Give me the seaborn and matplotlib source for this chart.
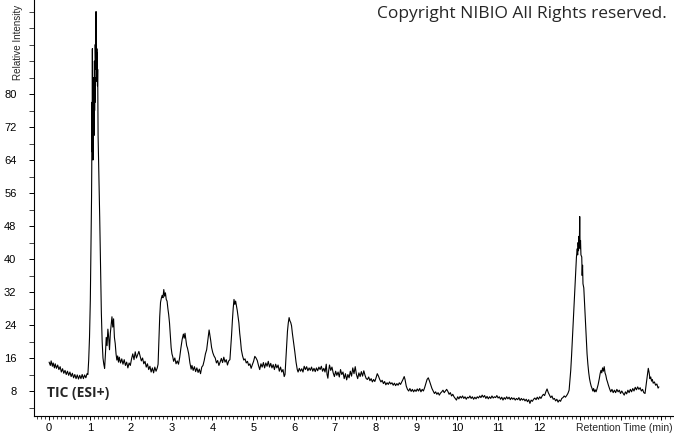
import numpy as np
import pandas as pd
import seaborn as sns
import matplotlib.pyplot as plt
from matplotlib.ticker import FixedLocator, MultipleLocator

sns.set_style("ticks")
plt.rcParams['font.family'] = ['Liberation Sans', 'DejaVu Sans']

# TIC trace: (retention time [min], relative intensity)
seg_0_3 = [
    (0.00, 15.0), (0.03, 14.2), (0.05, 15.3), (0.08, 14.0), (0.10, 14.8), (0.13, 13.6), (0.15, 14.6),
    (0.18, 13.5), (0.21, 14.3), (0.24, 13.2), (0.27, 13.9), (0.30, 12.6), (0.33, 13.4), (0.36, 12.3),
    (0.39, 13.0), (0.42, 12.0), (0.45, 12.8), (0.48, 11.8), (0.51, 12.6), (0.54, 11.5), (0.57, 12.3),
    (0.60, 11.2), (0.63, 12.0), (0.66, 11.0), (0.69, 11.9), (0.72, 10.9), (0.75, 11.8), (0.78, 11.0),
    (0.81, 12.0), (0.84, 11.0), (0.87, 11.9), (0.90, 11.2), (0.93, 12.2), (0.95, 12.0),
    (0.97, 15.5), (0.99, 21.0), (1.01, 30.0), (1.03, 46.0), (1.04, 55.0), (1.045, 62.0), (1.05, 78.0),
    (1.055, 66.0), (1.06, 91.0), (1.065, 75.0), (1.07, 82.0), (1.075, 64.0), (1.08, 80.0), (1.085, 68.0),
    (1.09, 84.0), (1.095, 72.0), (1.10, 79.0), (1.105, 70.0), (1.11, 88.0), (1.115, 76.0), (1.12, 84.0),
    (1.125, 78.0), (1.13, 92.0), (1.14, 86.0), (1.15, 100.0), (1.155, 88.0), (1.16, 92.0), (1.165, 84.0),
    (1.17, 91.0), (1.175, 83.0), (1.18, 90.0), (1.185, 82.0), (1.19, 86.0), (1.20, 70.0), (1.22, 60.0),
    (1.24, 50.0), (1.26, 38.0), (1.28, 27.0), (1.30, 20.0), (1.32, 16.0), (1.34, 14.5), (1.36, 13.5),
    (1.38, 17.0), (1.40, 21.0), (1.42, 19.0), (1.44, 23.0), (1.46, 21.0), (1.48, 18.0), (1.50, 22.0),
    (1.52, 24.0), (1.54, 26.0), (1.56, 23.5), (1.58, 25.5), (1.60, 21.0), (1.62, 19.5), (1.64, 17.0),
    (1.66, 15.5), (1.68, 16.5), (1.70, 15.0), (1.72, 16.2), (1.75, 14.8), (1.78, 15.8), (1.81, 14.5),
    (1.84, 15.6), (1.87, 14.2), (1.90, 15.0), (1.93, 13.6), (1.96, 14.8), (1.99, 14.2), (2.02, 15.8),
    (2.05, 17.0), (2.08, 15.6), (2.11, 17.5), (2.14, 16.0), (2.17, 16.8), (2.20, 17.6), (2.23, 16.4),
    (2.26, 15.3), (2.29, 16.0), (2.32, 14.6), (2.35, 15.2), (2.38, 13.8), (2.41, 14.6), (2.44, 13.2),
    (2.47, 14.0), (2.50, 12.6), (2.53, 13.6), (2.56, 12.4), (2.59, 13.8), (2.62, 12.8), (2.65, 13.6),
    (2.67, 14.5), (2.69, 20.0), (2.71, 26.0), (2.73, 29.5), (2.75, 30.5), (2.77, 31.2), (2.79, 30.6),
    (2.81, 32.6), (2.83, 31.0), (2.85, 31.8), (2.87, 30.2), (2.89, 29.8), (2.91, 28.0), (2.93, 26.5),
    (2.95, 24.5), (2.97, 21.5), (2.99, 18.5),
]
seg_3_6 = [
    (3.01, 17.0), (3.03, 16.3), (3.05, 15.2), (3.08, 16.0), (3.11, 14.6), (3.14, 15.3), (3.17, 14.5),
    (3.20, 16.2), (3.23, 18.5), (3.26, 20.5), (3.29, 21.8), (3.31, 20.8), (3.33, 22.0), (3.35, 20.5),
    (3.37, 19.0), (3.39, 18.4), (3.42, 17.0), (3.45, 14.8), (3.48, 13.3), (3.50, 14.2), (3.53, 13.0),
    (3.56, 13.9), (3.59, 12.7), (3.62, 13.6), (3.65, 12.5), (3.68, 13.3), (3.71, 12.2), (3.74, 13.8),
    (3.77, 14.2), (3.80, 15.4), (3.83, 17.0), (3.86, 18.0), (3.89, 20.5), (3.92, 22.8), (3.94, 21.5),
    (3.96, 20.2), (3.98, 18.6), (4.01, 17.3), (4.04, 16.5), (4.07, 16.0), (4.10, 14.8), (4.13, 15.4),
    (4.16, 14.2), (4.19, 15.0), (4.22, 15.9), (4.25, 14.9), (4.28, 16.2), (4.31, 15.0), (4.34, 15.6),
    (4.37, 14.3), (4.40, 15.3), (4.43, 15.6), (4.45, 18.5), (4.47, 21.5), (4.49, 25.0), (4.51, 28.0),
    (4.53, 30.2), (4.55, 29.0), (4.57, 29.8), (4.59, 28.6), (4.61, 27.5), (4.63, 26.0), (4.65, 24.5),
    (4.67, 22.0), (4.69, 20.2), (4.71, 18.0), (4.74, 16.5), (4.77, 15.5), (4.80, 15.8), (4.83, 14.8),
    (4.86, 15.2), (4.89, 14.2), (4.92, 14.6), (4.95, 13.5), (4.98, 14.4), (5.01, 15.2), (5.04, 16.4),
    (5.07, 16.0), (5.10, 15.4), (5.13, 14.2), (5.16, 13.2), (5.19, 14.6), (5.22, 13.8), (5.25, 14.9),
    (5.28, 13.6), (5.31, 14.8), (5.34, 14.0), (5.37, 15.2), (5.40, 13.8), (5.43, 14.7), (5.46, 13.6),
    (5.49, 14.4), (5.52, 13.2), (5.55, 14.5), (5.58, 13.6), (5.61, 14.3), (5.64, 12.8), (5.67, 13.8),
    (5.70, 12.6), (5.73, 13.2), (5.76, 11.5), (5.78, 12.0), (5.80, 15.5), (5.82, 19.0), (5.84, 22.5),
    (5.86, 24.5), (5.88, 25.8), (5.90, 25.0), (5.92, 24.6), (5.94, 23.8), (5.96, 22.0), (5.98, 20.5),
]
seg_6_10 = [
    (6.00, 19.0), (6.02, 17.5), (6.05, 15.0), (6.08, 13.2), (6.10, 12.6), (6.13, 13.5), (6.16, 12.8),
    (6.19, 13.4), (6.22, 12.6), (6.25, 14.0), (6.28, 13.2), (6.31, 13.9), (6.34, 12.9), (6.37, 13.6),
    (6.40, 13.0), (6.43, 13.8), (6.46, 12.8), (6.49, 13.5), (6.52, 12.7), (6.55, 13.6), (6.58, 12.9),
    (6.61, 13.8), (6.64, 13.2), (6.67, 14.0), (6.70, 12.8), (6.73, 13.5), (6.76, 12.6), (6.79, 14.5),
    (6.81, 12.0), (6.83, 11.1), (6.85, 13.0), (6.87, 14.3), (6.90, 13.0), (6.93, 13.8), (6.96, 12.4),
    (6.99, 11.5), (7.02, 12.8), (7.05, 11.8), (7.08, 12.6), (7.11, 11.4), (7.14, 13.2), (7.17, 12.0),
    (7.20, 12.6), (7.23, 11.0), (7.26, 12.2), (7.29, 10.7), (7.32, 12.0), (7.35, 11.2), (7.38, 12.8),
    (7.41, 11.6), (7.44, 13.6), (7.47, 12.2), (7.50, 13.9), (7.53, 12.0), (7.56, 11.0), (7.59, 12.4),
    (7.62, 11.5), (7.65, 12.7), (7.68, 11.6), (7.71, 12.9), (7.74, 11.8), (7.77, 11.0), (7.80, 10.8),
    (7.83, 11.4), (7.86, 10.5), (7.89, 11.0), (7.92, 10.2), (7.95, 10.8), (7.98, 10.3), (8.01, 11.2),
    (8.04, 12.2), (8.07, 11.6), (8.10, 10.8), (8.13, 10.2), (8.16, 10.6), (8.19, 9.8), (8.22, 10.3),
    (8.25, 9.5), (8.28, 10.0), (8.31, 9.6), (8.34, 10.2), (8.37, 9.7), (8.40, 10.0), (8.43, 9.4),
    (8.46, 9.9), (8.49, 9.3), (8.52, 9.8), (8.55, 9.4), (8.58, 10.0), (8.61, 9.6), (8.64, 10.2),
    (8.67, 10.8), (8.70, 11.5), (8.72, 10.8), (8.75, 9.2), (8.78, 8.4), (8.81, 8.0), (8.84, 8.6),
    (8.87, 7.9), (8.90, 8.4), (8.93, 7.8), (8.96, 8.3), (8.99, 7.9), (9.02, 8.5), (9.05, 8.0),
    (9.08, 8.6), (9.11, 7.8), (9.14, 8.4), (9.17, 8.0), (9.20, 8.8), (9.23, 9.8), (9.26, 10.8),
    (9.29, 11.2), (9.32, 10.4), (9.35, 9.5), (9.38, 8.6), (9.41, 8.0), (9.44, 7.4), (9.47, 7.8),
    (9.50, 7.2), (9.53, 7.6), (9.56, 7.0), (9.59, 7.5), (9.62, 7.8), (9.65, 8.2), (9.68, 7.6),
    (9.71, 8.0), (9.74, 8.4), (9.77, 7.9), (9.80, 7.2), (9.83, 7.6), (9.86, 6.8), (9.89, 7.2),
    (9.92, 6.6), (9.95, 6.2), (9.98, 5.8),
]
seg_10_15 = [
    (10.01, 6.6), (10.04, 6.1), (10.07, 6.7), (10.10, 6.3), (10.13, 6.8), (10.16, 6.2), (10.19, 6.6),
    (10.22, 6.0), (10.25, 6.5), (10.28, 6.3), (10.31, 6.8), (10.34, 6.2), (10.37, 6.6), (10.40, 6.0),
    (10.43, 6.5), (10.46, 6.1), (10.49, 6.6), (10.52, 6.3), (10.55, 6.8), (10.58, 6.4), (10.61, 7.0),
    (10.64, 6.5), (10.67, 6.9), (10.70, 6.2), (10.73, 6.7), (10.76, 6.1), (10.79, 6.6), (10.82, 6.2),
    (10.85, 6.8), (10.88, 6.3), (10.91, 6.6), (10.94, 6.4), (10.97, 6.9), (11.00, 6.3), (11.03, 6.6),
    (11.06, 6.0), (11.09, 6.5), (11.12, 5.8), (11.15, 6.4), (11.18, 6.0), (11.21, 6.6), (11.24, 6.1),
    (11.27, 6.5), (11.30, 5.9), (11.33, 6.4), (11.36, 6.0), (11.39, 6.3), (11.42, 5.8), (11.45, 6.2),
    (11.48, 5.9), (11.51, 6.4), (11.54, 5.7), (11.57, 6.2), (11.60, 5.8), (11.63, 6.1), (11.66, 5.6),
    (11.69, 6.0), (11.72, 5.4), (11.75, 5.9), (11.78, 5.0), (11.81, 5.8), (11.84, 5.5), (11.87, 6.0),
    (11.90, 6.3), (11.93, 5.9), (11.96, 6.5), (11.99, 6.0), (12.02, 6.6), (12.05, 6.2), (12.08, 6.8),
    (12.11, 7.2), (12.14, 6.9), (12.17, 7.8), (12.20, 8.5), (12.23, 7.6), (12.26, 7.0), (12.29, 6.4),
    (12.32, 6.8), (12.35, 6.0), (12.38, 6.2), (12.41, 5.6), (12.44, 6.0), (12.47, 5.3), (12.50, 5.8),
    (12.53, 5.5), (12.56, 6.2), (12.59, 6.4), (12.62, 6.8), (12.65, 6.5), (12.68, 6.9), (12.71, 7.4),
    (12.74, 8.2), (12.76, 10.5), (12.78, 13.0), (12.80, 16.5), (12.82, 20.5), (12.84, 25.0),
    (12.86, 29.0), (12.88, 32.5), (12.90, 37.0), (12.92, 40.5), (12.94, 42.5), (12.95, 41.0),
    (12.96, 44.0), (12.97, 42.0), (12.98, 45.5), (12.99, 43.0), (13.00, 50.3), (13.01, 42.5),
    (13.02, 44.5), (13.03, 41.0), (13.05, 40.5), (13.06, 36.0), (13.07, 38.5), (13.08, 34.0),
    (13.10, 33.0), (13.12, 29.0), (13.14, 25.0), (13.16, 21.0), (13.18, 17.0), (13.20, 14.5),
    (13.22, 12.5), (13.24, 11.0), (13.26, 10.0), (13.28, 9.2), (13.30, 8.7), (13.32, 8.0), (13.34, 8.6),
    (13.36, 7.8), (13.38, 8.3), (13.40, 7.8), (13.42, 8.4), (13.45, 9.5), (13.48, 11.0), (13.50, 12.2),
    (13.52, 13.0), (13.54, 12.4), (13.56, 13.6), (13.58, 12.8), (13.60, 13.9), (13.62, 12.4),
    (13.64, 11.8), (13.66, 10.8), (13.68, 10.2), (13.70, 9.5), (13.73, 8.6), (13.76, 7.8), (13.79, 8.4),
    (13.82, 7.6), (13.85, 8.2), (13.88, 7.6), (13.91, 8.4), (13.94, 7.8), (13.97, 8.2), (14.00, 7.4),
    (14.03, 8.0), (14.06, 7.5), (14.09, 7.0), (14.12, 7.8), (14.15, 7.3), (14.18, 8.2), (14.21, 7.6),
    (14.24, 8.4), (14.27, 7.8), (14.30, 8.6), (14.33, 8.0), (14.36, 8.9), (14.39, 8.3), (14.42, 9.0),
    (14.45, 8.4), (14.48, 8.8), (14.51, 8.0), (14.54, 8.4), (14.57, 7.6), (14.60, 7.4), (14.62, 9.0),
    (14.64, 10.5), (14.66, 12.0), (14.68, 13.5), (14.70, 12.5), (14.72, 11.0), (14.74, 11.4),
    (14.76, 10.4), (14.78, 10.8), (14.80, 9.9), (14.83, 10.2), (14.86, 9.4), (14.89, 9.7), (14.92, 8.7),
    (14.94, 9.0),
]

x_ticks = list(range(0, 16))
x_labels = [str(i) for i in range(0, 13)] + ["", "", ""]
y_ticks = [8, 16, 24, 32, 40, 48, 56, 64, 72, 80]

df = pd.DataFrame(seg_0_3 + seg_3_6 + seg_6_10 + seg_10_15, columns=["rt", "tic"])

fig = plt.figure(figsize=(6.74, 4.34), dpi=100)
ax = fig.add_axes([34 / 674, 18 / 434, 640 / 674, 416 / 434])
sns.lineplot(data=df, x="rt", y="tic", sort=False, estimator=None,
             color="black", linewidth=0.8, ax=ax)

ax.set_xlim(-0.37, 15.31)
ax.set_ylim(1.94, 102.8)
sns.despine(ax=ax)
for s in ["left", "bottom"]:
    ax.spines[s].set_linewidth(0.8)
    ax.spines[s].set_color("black")

ax.xaxis.set_major_locator(FixedLocator(x_ticks))
ax.set_xticklabels(x_labels)
ax.xaxis.set_minor_locator(MultipleLocator(0.1))
ax.yaxis.set_major_locator(FixedLocator(y_ticks))
ax.set_yticklabels([str(v) for v in y_ticks])
ax.yaxis.set_minor_locator(MultipleLocator(4))

ax.tick_params(axis="x", which="major", length=3.2, width=0.7, pad=1.5, labelsize=8, colors="black")
ax.tick_params(axis="x", which="minor", length=1.8, width=0.6)
ax.tick_params(axis="y", which="major", length=3.6, width=0.7, pad=9, labelsize=8, colors="black")
ax.tick_params(axis="y", which="minor", length=3.6, width=0.6)
ax.set_xlabel("")
ax.set_ylabel("")

# y label sits high up on the axis, next to the top ticks
fig.text(18.5 / 674, 1 - 80 / 434, "Relative Intensity", rotation=90,
         ha="center", va="bottom", fontsize=7.1)
fig.text(673 / 674, 1 - 428 / 434, "Retention Time (min)", ha="right", va="center", fontsize=7.5)
fig.text(47 / 674, 1 - 393 / 434, "TIC (ESI+)", ha="left", va="center", fontsize=10,
         fontweight="bold", family=["Open Sans", "DejaVu Sans"])
fig.text(667 / 674, 1 - 14 / 434, "Copyright NIBIO All Rights reserved.", ha="right",
         va="center", fontsize=12.5, family=["Open Sans", "DejaVu Sans"])

fig.savefig("out.png", dpi=100)
